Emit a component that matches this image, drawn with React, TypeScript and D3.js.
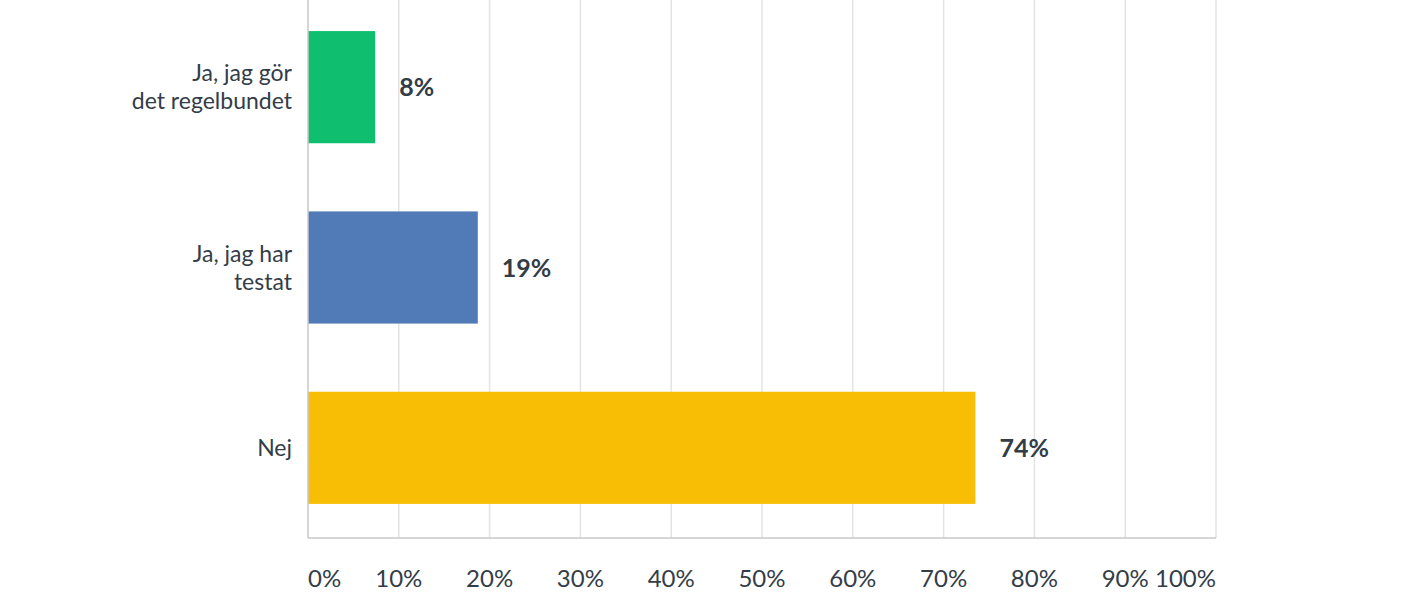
import React, { useEffect, useRef } from "react";
import * as d3 from "d3";

const categories = [["Ja, jag gör", "det regelbundet"], ["Ja, jag har", "testat"], ["Nej"]];
const values = [7.4, 18.7, 73.5];
const valueLabels = ["8%", "19%", "74%"];
const colors = ["#0fbe6e", "#507bb6", "#f8be05"];
const ticks = [0, 10, 20, 30, 40, 50, 60, 70, 80, 90, 100];

const width = 1420,
  height = 600;
const margin = { top: -3, right: 204, bottom: 62, left: 308 };
const font = "Lato, 'Open Sans', sans-serif";
const textColor = "#333d47";

export default function App(): JSX.Element {
  const ref = useRef<SVGSVGElement>(null);

  useEffect(() => {
    if (!ref.current) return;
    const svg = d3.select(ref.current);
    svg.selectAll("*").remove();

    const x = d3
      .scaleLinear()
      .domain([0, 100])
      .range([margin.left, width - margin.right]);

    const y = d3
      .scaleBand<number>()
      .domain(values.map((d, i) => i))
      .range([margin.top, height - margin.bottom])
      .paddingInner(0.378)
      .paddingOuter(0.189);

    const axisY = height - margin.bottom;

    // grid
    svg
      .append("g")
      .selectAll("line")
      .data(ticks.slice(1))
      .join("line")
      .attr("x1", (d) => x(d))
      .attr("x2", (d) => x(d))
      .attr("y1", 0)
      .attr("y2", axisY)
      .attr("stroke", "#e3e3e3")
      .attr("stroke-width", 1.5);

    // bars
    svg
      .append("g")
      .selectAll("rect")
      .data(values)
      .join("rect")
      .attr("x", x(0))
      .attr("y", (d, i) => y(i) as number)
      .attr("width", (d) => x(d) - x(0))
      .attr("height", y.bandwidth())
      .attr("fill", (d, i) => colors[i]);

    // axes lines
    svg
      .append("line")
      .attr("x1", x(0))
      .attr("x2", x(0))
      .attr("y1", 0)
      .attr("y2", axisY)
      .attr("stroke", "#c9c9c9")
      .attr("stroke-width", 1.5);
    svg
      .append("line")
      .attr("x1", x(0))
      .attr("x2", x(100))
      .attr("y1", axisY)
      .attr("y2", axisY)
      .attr("stroke", "#c9c9c9")
      .attr("stroke-width", 1.5);

    // tick labels
    svg
      .append("g")
      .selectAll("text")
      .data(ticks)
      .join("text")
      .attr("x", (d) => x(d))
      .attr("y", 587)
      .attr("text-anchor", (d, i) =>
        i === 0 ? "start" : i === ticks.length - 1 ? "end" : "middle"
      )
      .attr("font-family", font)
      .attr("font-size", 24)
      .attr("fill", textColor)
      .text((d) => `${d}%`);

    // category labels
    const cat = svg
      .append("g")
      .selectAll("text")
      .data(categories)
      .join("text")
      .attr("text-anchor", "end")
      .attr("font-family", font)
      .attr("font-size", 23)
      .attr("fill", textColor)
      .attr("transform", (d, i) => {
        const cy = (y(i) as number) + y.bandwidth() / 2;
        return `translate(292, ${cy + 8 - ((d.length - 1) * 28) / 2})`;
      });
    cat
      .selectAll("tspan")
      .data((d) => d)
      .join("tspan")
      .attr("x", 0)
      .attr("y", (d, i) => i * 28)
      .text((d) => d);

    // value labels
    svg
      .append("g")
      .selectAll("text")
      .data(values)
      .join("text")
      .attr("x", (d) => x(d) + 24)
      .attr("y", (d, i) => (y(i) as number) + y.bandwidth() / 2 + 9)
      .attr("font-family", font)
      .attr("font-size", 25)
      .attr("font-weight", 700)
      .attr("fill", textColor)
      .text((d, i) => valueLabels[i]);
  }, []);

  return (
    <svg
      ref={ref}
      width={width}
      height={height}
      style={{ position: "absolute", left: 0, top: 0, background: "#fff" }}
    />
  );
}
